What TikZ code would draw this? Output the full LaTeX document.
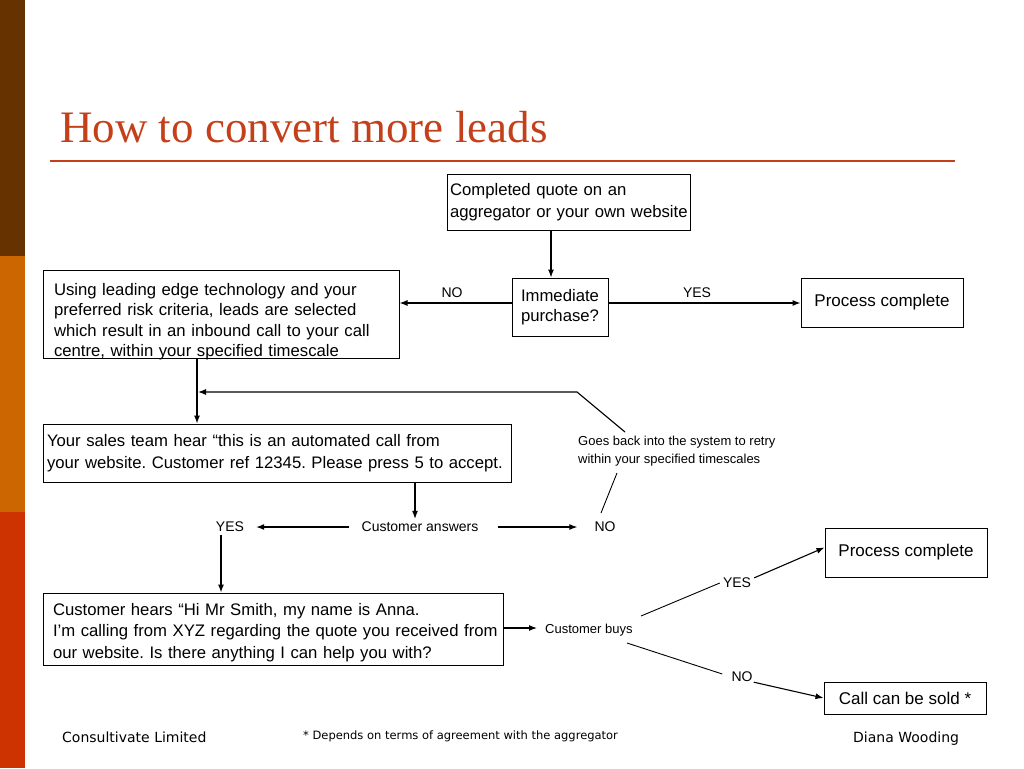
\documentclass[tikz,border=0pt]{standalone}
\usepackage{fontspec}
\setmainfont{Liberation Sans}
\newfontfamily\titlefont{Liberation Serif}
\newfontfamily\footfont{DejaVu Sans}
\usetikzlibrary{arrows.meta,calc}
\definecolor{barA}{HTML}{663300}
\definecolor{barB}{HTML}{CC6600}
\definecolor{barC}{HTML}{CC3300}
\definecolor{titlecol}{HTML}{C4401A}
\frenchspacing
\hyphenpenalty=10000
\exhyphenpenalty=10000
\newcommand{\lowerlines}[2]{\raisebox{-#1}[\height][\depth]{\begin{tabular}{@{}l@{}}#2\end{tabular}}}
\tikzset{
  box/.style={draw, line width=1pt, inner ysep=0pt, font=\fontsize{16.7}{20.5}\selectfont},
  lbl/.style={inner sep=0pt, font=\fontsize{14}{16}\selectfont},
  small/.style={inner sep=0pt, font=\fontsize{13}{18}\selectfont},
  arr/.style={line width=1.1pt, -{Latex[length=8pt,width=6pt]}},
  ln/.style={line width=0.9pt},
  foot/.style={inner sep=0pt, anchor=base west},
}
\begin{document}
\begin{tikzpicture}[x=1pt,y=-1pt]
\useasboundingbox (0,0) rectangle (1024,768);
% side bar
\fill[barA] (0,0) rectangle (25,256);
\fill[barB] (0,256) rectangle (25,512);
\fill[barC] (0,512) rectangle (25,768);
% title
\node[anchor=base west, inner sep=0pt, text=titlecol, font=\titlefont\fontsize{45}{48}\selectfont] (title) at (60,142) {How to convert more leads};
\draw[titlecol, line width=2.5pt] (50,161) coordinate (r1) -- (955,161) coordinate (r2);
% boxes
\node[box, minimum width=243, minimum height=56, text width=237, inner xsep=3, align=left, font=\fontsize{16.7}{22}\selectfont] (q) at (568.5,202) {\mbox{Completed quote on an}\\\mbox{aggregator or your own website}};
\node[box, minimum width=96, minimum height=58, inner xsep=2, align=center] (imm) at (560,307) {Immediate\\purchase?};
\node[box, minimum width=162, minimum height=49, align=center, font=\fontsize{17}{20}\selectfont] (pc1) at (882,302.5) {Process complete};
\node[box, minimum width=356, minimum height=88, text width=334, inner xsep=11, align=left] (use) at (221,314) {\lowerlines{8pt}{Using leading edge technology and your\\preferred risk criteria, leads are selected\\which result in an inbound call to your call\\centre, within your specified timescale}};
\node[box, minimum width=468, minimum height=58, text width=460, inner xsep=4, align=left, font=\fontsize{16.7}{22}\selectfont] (sales) at (277,453) {\mbox{Your sales team hear “this is an automated call from}\\\mbox{your website. Customer ref 12345. Please press 5 to accept.}};
\node[box, minimum width=460, minimum height=72, text width=440, inner xsep=10, align=left, font=\fontsize{16.7}{21.5}\selectfont] (hears) at (273,629) {\lowerlines{3.5pt}{Customer hears “Hi Mr Smith, my name is Anna.\\I’m calling from XYZ regarding the quote you received from\\our website. Is there anything I can help you with?}};
\node[box, minimum width=162, minimum height=49, align=center, font=\fontsize{17}{20}\selectfont] (pc2) at (906,552.5) {Process complete};
\node[box, minimum width=162, minimum height=32, align=center, font=\fontsize{17}{20}\selectfont] (call) at (905,698) {Call can be sold *};
% labels
\node[lbl] (no1) at (452,293) {NO};
\node[lbl] (yes1) at (697,293) {YES};
\node[lbl] (ca) at (420,527) {Customer answers};
\node[lbl] (yes2) at (230,527) {YES};
\node[lbl] (no2) at (605,527) {NO};
\node[small, anchor=west, align=left] (goes) at (578,451) {Goes back into the system to retry\\within your specified timescales};
\node[small, anchor=west] (buys) at (545,630) {Customer buys};
\node[lbl] (yes3) at (737,583) {YES};
\node[lbl] (no3) at (742,677) {NO};
% connectors
\draw[arr] ([xshift=-17.5]q.south) -- ([xshift=-17.5]q.south |- imm.north);
\draw[arr] ([yshift=4]imm.west) -- ([yshift=4]imm.west -| use.east);
\draw[arr] ([yshift=4]imm.east) -- ([yshift=4]imm.east -| pc1.west);
\draw[arr] ([xshift=-24]use.south) -- ([xshift=-24]use.south |- sales.north);
\coordinate (g1) at (625,432);
\coordinate (bend) at (577,392);
\coordinate (join) at (198,392);
\coordinate (g2) at (617,473);
\coordinate (n1) at (601,513);
\draw[arr] (g1) -- (bend) -- (join);
\draw[ln] (n1) -- (g2);
\draw[arr] ([xshift=-5]ca.north |- sales.south) -- ([xshift=-5,yshift=3]ca.north);
\draw[arr] ([xshift=-12]ca.west) -- ([xshift=12]yes2.east);
\draw[arr] ([xshift=19]ca.east) -- ([xshift=-17]no2.west);
\draw[arr] ([xshift=-9,yshift=-3]yes2.south) -- ([xshift=-9]yes2.south |- hears.north);
\draw[arr] ([yshift=1]hears.east) -- ([xshift=-8,yshift=1]buys.west |- hears.east);
\coordinate (by) at (641,616);
\coordinate (bn) at (627,643);
\draw[ln] (by) -- ([xshift=-3]yes3.west);
\draw[arr] ([xshift=3]yes3.north east) -- ([yshift=5]pc2.west);
\draw[ln] (bn) -- ([xshift=-9,yshift=3]no3.west);
\draw[arr] ([xshift=1]no3.south east) -- (call.west);
% footer
\node[foot, font=\footfont\fontsize{14}{16}\selectfont] (f1) at (62,742) {Consultivate Limited};
\node[foot, font=\footfont\fontsize{11.5}{14}\selectfont] (f2) at (303,739) {* Depends on terms of agreement with the aggregator};
\node[foot, font=\footfont\fontsize{14}{16}\selectfont] (f3) at (853,742) {Diana Wooding};
\end{tikzpicture}
\end{document}
